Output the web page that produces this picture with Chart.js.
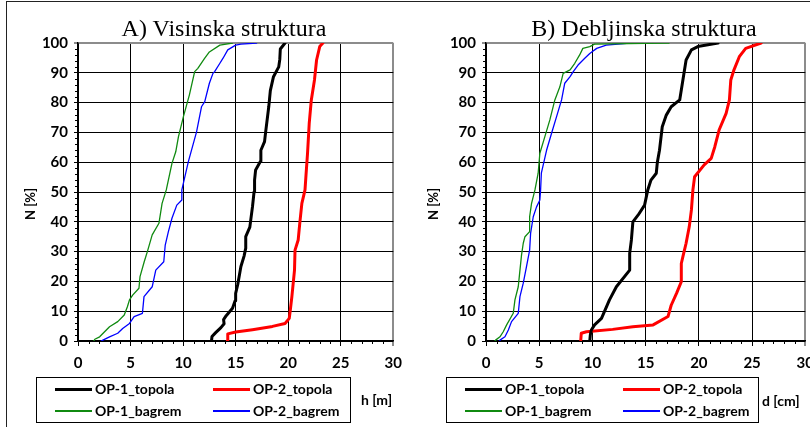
<!DOCTYPE html>
<html>
<head>
<meta charset="utf-8">
<script src="https://cdn.jsdelivr.net/npm/chart.js@4.4.1/dist/chart.umd.min.js"></script>
<style>
  html, body { margin: 0; padding: 0; background: #fff; }
  body { width: 810px; height: 427px; overflow: hidden; position: relative; font-family: Lato, sans-serif; color: #000; }
  #frame { position: absolute; left: 6px; top: 1px; width: 900px; height: 500px; border: 1px solid #222; box-sizing: border-box; }
  canvas { position: absolute; top: 0; }
  .title { position: absolute; top: 16px; font: 24px "Liberation Serif", "Times New Roman", serif; line-height: 24px; white-space: nowrap; transform: translateX(-50%); }
  .ytitle { position: absolute; font: bold 13px Lato, sans-serif; white-space: nowrap; transform: translate(-50%, -50%) rotate(-90deg); }
  .xtitle { position: absolute; font: bold 14px Lato, sans-serif; white-space: nowrap; transform: translateY(-50%); }
  .legend { position: absolute; top: 377px; height: 46px; border: 1px solid #000; box-sizing: border-box; font: bold 14px Lato, sans-serif; }
  .item { position: absolute; display: flex; align-items: center; white-space: nowrap; transform: translateY(-50%); line-height: 16px; }
  .swatch { display: inline-block; width: 37px; margin-right: 3px; }
</style>
</head>
<body>
<div id="frame"></div>
<canvas id="cA" width="410" height="380" style="left:0"></canvas>
<canvas id="cB" width="410" height="380" style="left:412px"></canvas>

<div class="title" style="left:224px">A) Visinska struktura</div>
<div class="title" style="left:644px">B) Debljinska struktura</div>
<div class="ytitle" style="left:30px; top:204px">N [%]</div>
<div class="ytitle" style="left:433px; top:204px">N [%]</div>
<div class="legend" id="legA" style="left:36px; width:315px"></div>
<div class="legend" id="legB" style="left:446px; width:313px"></div>
<div class="xtitle" style="left:361px; top:399px">h [m]</div>
<div class="xtitle" style="left:762px; top:400px">d [cm]</div>

<script>
// Cumulative share of trees N [%] against height h [m] (A) and diameter d [cm] (B)

// A) height
const hTopola1 = [12.7, 12.75, 13.1, 13.6, 13.9, 13.85, 14.1, 14.7, 14.95, 15.0, 15.2, 15.35, 15.5, 15.8, 15.95, 15.96, 16.35, 16.45, 16.6, 16.75, 16.8, 16.9, 17.35, 17.4, 17.75, 17.85, 18.15, 18.3, 18.6, 19.1, 19.2, 19.25, 19.7];
const nTopola1h = [0, 1.5, 2.8, 4.5, 5.8, 7.2, 8.5, 11, 13.5, 16, 19, 22, 25, 28.5, 31, 35, 38.2, 41, 45, 50, 54, 57.4, 60.2, 64, 66.9, 70, 78.6, 84, 88.7, 92, 94.5, 98, 100];

const hTopola2 = [14.2, 14.25, 15.0, 16.6, 18.5, 19.7, 20.1, 20.2, 20.35, 20.6, 20.65, 20.95, 21.1, 21.3, 21.6, 21.7, 21.84, 22.0, 22.2, 22.5, 22.7, 23.0, 23.3];
const nTopola2h = [0, 2.4, 3.0, 3.8, 4.9, 5.9, 7.6, 10.4, 14.9, 23.8, 30.5, 33.9, 39.5, 46.2, 50.7, 56, 63, 73, 80.9, 87.6, 94.3, 98.8, 100];

const hBagrem1 = [1.5, 1.6, 2.06, 2.53, 3.0, 3.78, 4.4, 4.7, 4.9, 5.2, 5.8, 5.9, 6.3, 6.6, 7.06, 7.7, 8.0, 8.4, 8.94, 9.3, 9.56, 10.03, 10.6, 11.1, 11.4, 12.06, 12.5, 13.5, 14.7];
const nBagrem1h = [0, 0.6, 1.4, 3.1, 4.8, 6.5, 8.7, 11.5, 13.8, 15.4, 17.7, 21.6, 26.6, 30, 35.6, 39.5, 46.2, 50.7, 59.6, 63.5, 68.6, 75.3, 82.6, 90.4, 91.5, 94.9, 97, 99.3, 100];

const hBagrem2 = [2.2, 2.37, 3.0, 3.78, 4.25, 4.9, 5.34, 6.13, 6.28, 7.06, 7.4, 8.16, 8.3, 8.6, 8.94, 9.4, 9.88, 9.88, 10.5, 11.28, 11.75, 12.06, 12.5, 12.84, 13.0, 13.5, 13.8, 14.25, 15.0, 15.5, 17.0];
const nBagrem2h = [0, 0.3, 1.4, 2.6, 4.2, 5.9, 8.2, 9.3, 14.9, 18.2, 23.8, 26.6, 32.2, 36.7, 41.2, 45.6, 47.3, 50.7, 60.2, 70.2, 78.6, 80.3, 86.5, 89.8, 90.4, 93.2, 94.9, 97.7, 99.3, 99.6, 100];

// B) diameter
const dTopola1 = [9.75, 9.8, 9.9, 10.2, 10.85, 11.6, 12.25, 13.5, 13.5, 13.66, 13.8, 14.3, 14.9, 15.2, 15.5, 16.0, 16.1, 16.3, 16.56, 16.94, 17.4, 18.2, 18.5, 18.8, 19.3, 19.9, 21.8];
const nTopola1d = [0, 2, 3.7, 5.4, 7.6, 13.8, 18.2, 23.8, 29.4, 33.9, 40, 42.3, 45.6, 50.7, 54, 56.3, 60, 64, 71.9, 75.8, 78.6, 80.9, 87.6, 94.3, 97.7, 98.8, 100];

const dTopola2 = [8.9, 8.95, 9.44, 11.9, 13.8, 15.7, 17.1, 17.4, 17.9, 18.35, 18.35, 18.5, 18.8, 19.1, 19.3, 19.44, 19.6, 20.5, 21.16, 21.5, 21.9, 22.56, 22.87, 23.0, 23.3, 23.8, 24.4, 25.85];
const nTopola2d = [0, 2.6, 3.1, 3.9, 4.8, 5.4, 8.2, 12, 16, 19.9, 26, 28.3, 32.8, 38.4, 44, 50.7, 55.1, 59.1, 61.3, 65.2, 70.8, 76.4, 80.9, 87.6, 91, 95.4, 98.2, 100];

const dBagrem1 = [0.84, 0.9, 1.31, 1.62, 1.94, 2.56, 2.72, 3.03, 3.19, 3.34, 3.5, 3.66, 4.1, 4.1, 4.28, 4.6, 4.9, 5.06, 5.53, 6.0, 6.47, 6.94, 7.25, 7.9, 8.34, 8.8, 9.1, 9.75, 10.2, 15.0, 17.2];
const nBagrem1d = [0, 0.3, 1.4, 3.1, 5.4, 9.3, 13.8, 18.2, 23.8, 28.9, 32.8, 35, 36.7, 41.7, 46.2, 50.7, 56.3, 63, 68.6, 74.2, 80.9, 85.3, 89.8, 91, 93.2, 96, 98.2, 98.8, 99.6, 99.9, 100];

const dBagrem2 = [1.25, 1.31, 1.78, 2.1, 2.4, 3.03, 3.19, 3.5, 3.8, 4.1, 4.19, 4.44, 4.75, 5.06, 5.13, 5.2, 5.69, 6.16, 6.63, 7.1, 7.4, 7.9, 8.2, 8.65, 9.28, 9.75, 10.4, 11.3, 13.5];
const nBagrem2d = [0, 0.3, 1.4, 3.7, 6.5, 9.3, 14.9, 19.4, 24.9, 30.5, 36.1, 41.7, 45, 47.3, 50.7, 56.3, 64, 69.7, 75.3, 80.9, 86.5, 88.7, 90.4, 92.6, 94.9, 96.5, 98.2, 99.3, 100];

const seriesLabels = ['OP-1_topola', 'OP-2_topola', 'OP-1_bagrem', 'OP-2_bagrem'];
const seriesColors = ['#000000', '#ff0000', '#108a10', '#0000ff'];
const seriesWidths = [3, 3, 1.3, 1.3];

const xTicks = { min: 0, max: 30, step: 5, minorStep: 1 };
const yTicks = { min: 0, max: 100, step: 10, minorStep: 2 };

Chart.defaults.font.family = 'Lato, sans-serif';
Chart.defaults.font.weight = 'bold';
Chart.defaults.color = '#000';

// small tick marks between the labelled ones on both axes
const minorTicks = {
  id: 'minorTicks',
  afterDraw(chart) {
    const { ctx, chartArea, scales: { x, y } } = chart;
    ctx.save();
    ctx.strokeStyle = '#000';
    ctx.lineWidth = 1;
    ctx.beginPath();
    for (let v = xTicks.min; v <= xTicks.max; v += xTicks.minorStep) {
      if (v % xTicks.step === 0) continue;
      const px = Math.round(x.getPixelForValue(v)) + 0.5;
      ctx.moveTo(px, chartArea.bottom);
      ctx.lineTo(px, chartArea.bottom + 3);
    }
    for (let v = yTicks.min; v <= yTicks.max; v += yTicks.minorStep) {
      if (v % yTicks.step === 0) continue;
      const py = Math.round(y.getPixelForValue(v)) + 0.5;
      ctx.moveTo(chartArea.left - 3, py);
      ctx.lineTo(chartArea.left, py);
    }
    ctx.stroke();
    ctx.restore();
  }
};

function makeDatasets(xsList, nsList) {
  return xsList.map((xs, i) => ({
    label: seriesLabels[i],
    data: xs.map((v, k) => ({ x: v, y: nsList[i][k] })),
    showLine: true,
    borderColor: seriesColors[i],
    backgroundColor: seriesColors[i],
    borderWidth: seriesWidths[i],
    pointRadius: 0,
    tension: 0,
    borderJoinStyle: 'round',
    borderCapStyle: 'round'
  }));
}

function makeChart(canvasId, datasets, padLeft, padRight) {
  return new Chart(document.getElementById(canvasId), {
    type: 'scatter',
    data: { datasets },
    options: {
      responsive: false,
      animation: false,
      devicePixelRatio: 1,
      layout: { padding: { top: 43, left: padLeft, right: padRight, bottom: 0 } },
      plugins: { legend: { display: false }, tooltip: { enabled: false } },
      scales: {
        x: {
          type: 'linear',
          min: xTicks.min, max: xTicks.max,
          afterFit(s) { s.height = 39; },
          ticks: { stepSize: xTicks.step, color: '#000', padding: 8, font: { size: 15, weight: 'bold' } },
          grid: {
            color: c => (c.tick && c.tick.value === xTicks.max) ? '#8c8c8c' : '#000',
            lineWidth: c => (c.tick && c.tick.value === xTicks.max) ? 2 : 1,
            tickLength: 5
          },
          border: { color: '#000', width: 1.5 }
        },
        y: {
          min: yTicks.min, max: yTicks.max,
          afterFit(s) { s.width = 60; },
          ticks: { stepSize: yTicks.step, color: '#000', padding: 6, font: { size: 15, weight: 'bold' } },
          grid: {
            color: c => (c.tick && c.tick.value === yTicks.max) ? '#8c8c8c' : '#000',
            lineWidth: c => (c.tick && c.tick.value === yTicks.max) ? 2 : 1,
            tickLength: 4
          },
          border: { color: '#000', width: 1.5 }
        }
      }
    },
    plugins: [minorTicks]
  });
}

function buildLegend(boxId, datasets) {
  const box = document.getElementById(boxId);
  const cols = [18, 176];
  const rows = [11, 33];
  datasets.forEach((ds, i) => {
    const item = document.createElement('div');
    item.className = 'item';
    item.style.left = cols[i % 2] + 'px';
    item.style.top = rows[Math.floor(i / 2)] + 'px';
    const sw = document.createElement('span');
    sw.className = 'swatch';
    sw.style.height = ds.borderWidth + 'px';
    sw.style.background = ds.borderColor;
    const tx = document.createElement('span');
    tx.textContent = ds.label;
    item.appendChild(sw);
    item.appendChild(tx);
    box.appendChild(item);
  });
}

const dsA = makeDatasets([hTopola1, hTopola2, hBagrem1, hBagrem2], [nTopola1h, nTopola2h, nBagrem1h, nBagrem2h]);
const dsB = makeDatasets([dTopola1, dTopola2, dBagrem1, dBagrem2], [nTopola1d, nTopola2d, nBagrem1d, nBagrem2d]);

makeChart('cA', dsA, 18, 12);
makeChart('cB', dsB, 14, 16);
buildLegend('legA', dsA);
buildLegend('legB', dsB);
</script>
</body>
</html>
